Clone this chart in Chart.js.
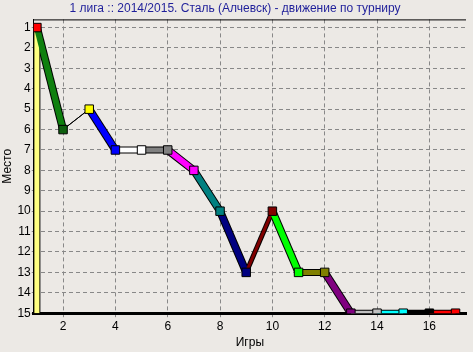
<!DOCTYPE html>
<html>
<head>
<meta charset="utf-8">
<script src="https://cdn.jsdelivr.net/npm/chart.js@4/dist/chart.umd.min.js"></script>
<style>
	html, body { margin: 0; padding: 0; background: #ece9e5; }
	#wrap { width: 473px; height: 352px; }
</style>
</head>
<body>
<div id="wrap"><canvas id="myChart"></canvas></div>
<script>
const titolo = "1 лига :: 2014/2015. Сталь (Алчевск) - движение по турниру";
const giochi = [1, 1, 2, 3, 4, 5, 6, 7, 8, 9, 10, 11, 12, 13, 14, 15, 16, 17];
const posti = [15, 1, 6, 5, 7, 7, 7, 8, 10, 13, 10, 13, 13, 15, 15, 15, 15, 15];
const tickX = [2, 4, 6, 8, 10, 12, 14, 16];
const tickY = [1, 2, 3, 4, 5, 6, 7, 8, 9, 10, 11, 12, 13, 14, 15];
const coloriSegmenti = ["#ffff80", "#0f800f", "#000000", "#0000ff", "#ffffff", "#808080", "#ff00ff", "#008080",
	"#000080", "#800000", "#00ff00", "#808000", "#800080", "#c0c0c0", "#00ffff", "#000000", "#ff0000"];
const spessori = [5, 6, 1, 6, 5, 5, 6, 6, 6, 3, 6, 5, 6, 5, 5, 5, 5];
const coloriPunti = ["#ffff80", "#ff0000", "#0f600f", "#ffff00", "#0000ff", "#ffffff", "#808080", "#ff00ff",
	"#008080", "#000080", "#800000", "#00ff00", "#808000", "#800080", "#c0c0c0", "#00ffff", "#000000", "#ff0000"];

// linea nera in alto sul bordo dell'area del grafico
const bordoSopra = {
	id: "bordoSopra",
	beforeDatasetsDraw(chart) {
		const { ctx, chartArea } = chart;
		ctx.save();
		ctx.strokeStyle = "#000";
		ctx.lineWidth = 1;
		ctx.beginPath();
		ctx.moveTo(chartArea.left, chartArea.top + 0.5);
		ctx.lineTo(chartArea.right, chartArea.top + 0.5);
		ctx.stroke();
		ctx.restore();
	},
};

const punti = giochi.map((g, i) => ({ x: g, y: posti[i] }));
const fontBase = { family: "Liberation Sans", size: 12 };

const ctx = document.getElementById("myChart").getContext("2d");
new Chart(ctx, {
	type: "scatter",
	data: {
		datasets: [
			{
				// linea colorata con i cubetti
				data: punti,
				showLine: true,
				borderColor: "#000",
				segment: {
					borderColor: (c) => coloriSegmenti[c.p0DataIndex],
					borderWidth: (c) => spessori[c.p0DataIndex],
				},
				pointStyle: "rect",
				pointRadius: giochi.map((g, i) => (i === 0 ? 0 : 6)),
				pointBackgroundColor: coloriPunti,
				pointBorderColor: "#000",
				pointBorderWidth: 1,
				order: 1,
			},
			{
				// contorno nero sotto i segmenti
				data: punti,
				showLine: true,
				borderColor: "#000",
				segment: {
					borderWidth: (c) => (spessori[c.p0DataIndex] > 1 ? spessori[c.p0DataIndex] + 2 : 1),
				},
				pointRadius: 0,
				order: 2,
			},
		],
	},
	options: {
		responsive: true,
		maintainAspectRatio: false,
		animation: false,
		layout: { padding: { right: 3, bottom: 2 } },
		plugins: {
			legend: { display: false },
			tooltip: { enabled: false },
			title: {
				display: true,
				text: titolo,
				color: "#1f1f9a",
				font: { family: "Liberation Sans", size: 12, weight: "normal" },
				padding: { top: 1, bottom: 4 },
			},
		},
		scales: {
			x: {
				type: "linear",
				min: 0.88,
				max: 17.4,
				afterBuildTicks: (ax) => { ax.ticks = tickX.map((v) => ({ value: v })); },
				ticks: { color: "#000", font: fontBase, padding: 2 },
				grid: { color: "#888888", tickLength: 4, tickBorderDash: [] },
				border: { color: "#000", width: 3, dash: [4, 3] },
				title: { display: true, text: "Игры", color: "#000", font: fontBase, padding: { top: 0, bottom: 0 } },
			},
			y: {
				type: "linear",
				reverse: true,
				min: 0.6,
				max: 15,
				afterBuildTicks: (ax) => { ax.ticks = tickY.map((v) => ({ value: v })); },
				ticks: { color: "#000", font: fontBase, padding: 1 },
				grid: { color: "#888888", tickLength: 2, tickBorderDash: [] },
				border: { color: "#000", width: 1, dash: [4, 3] },
				title: { display: true, text: "Место", color: "#000", font: fontBase, padding: { top: 0, bottom: 2 } },
			},
		},
		elements: { line: { tension: 0 } },
	},
	plugins: [bordoSopra],
});
</script>
</body>
</html>
